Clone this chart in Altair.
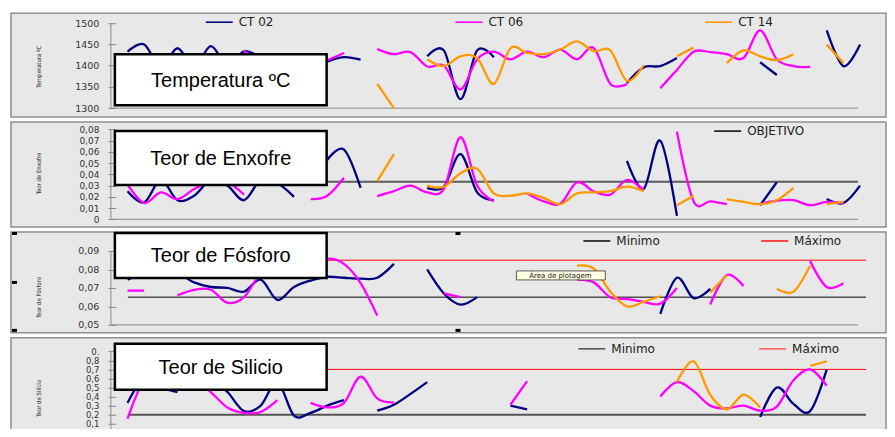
import altair as alt
import pandas as pd

samples = list(range(45))
series_names = ["CT 02", "CT 06", "CT 14"]
series_colors = ["#000080", "#ff00ff", "#ff9900"]

# ---- Temperatura ºC ----
temp_ct02 = [1433, 1450, 1395, 1441, 1395, 1446, 1400, 1434, 1420, 1405, 1400, 1398, 1410, 1420, 1414,
             None, None, None, 1422, 1436, 1321, 1436, 1420, None, None, None, None, None, None, None,
             1359, 1396, 1399, 1418, None, None, None, None, 1408, 1378, None, None, 1483, 1399, 1450]
temp_ct06 = [None, None, None, None, None, None, None, 1436, 1400, 1385, 1390, 1400, 1413, 1430, None,
             1439, 1427, 1432, 1398, 1400, 1344, 1415, 1433, 1415, 1433, 1420, 1438, 1415, 1442, 1357, 1357,
             None, 1347, 1390, 1433, 1432, 1427, 1418, 1483, 1415, 1399, 1397, None, None, None]
temp_ct14 = [None] * 15 + [1357, 1300, None, 1415, 1399, 1422, 1418, 1357, 1441, 1430, 1427, 1438, 1457,
             1434, 1436, 1364, 1401, None, 1422, 1443, None, 1406, 1436, 1422, 1413, 1427, None, 1450, 1406, None]

# ---- Teor de Enxofre ----
s_ct02 = [0.025, 0.015, 0.035, 0.017, 0.021, 0.035, 0.03, 0.017, 0.035, 0.032, 0.020, None, 0.053, 0.062, 0.028,
          None, None, None, 0.028, 0.029, 0.058, 0.024, 0.017] + [None] * 7 + \
         [0.052, 0.027, 0.070, 0.003, None, None, None, None, 0.0125, 0.033, None, None, 0.018, 0.0145, 0.030]
s_ct06 = [0.031, 0.0145, 0.024, 0.018, 0.027, 0.034, 0.033, 0.022, None, None, None, 0.018, 0.021, 0.037, None,
          0.0207, 0.025, 0.030, 0.024, 0.027, 0.073, 0.030, 0.016, None,
          0.023, 0.016, 0.014, 0.033, 0.025, 0.022, 0.035, 0.026, None,
          0.078, 0.016, 0.016, 0.0135, None, 0.0136, 0.0165, 0.017, 0.0125, 0.0155, 0.0145, None]
s_ct14 = [None] * 15 + [0.034, 0.058, None, 0.030, 0.029, 0.041, 0.045, 0.023, 0.021, 0.023, 0.019, 0.0135,
          0.023, 0.024, 0.025, 0.029, 0.025, None, 0.0125, 0.021, None, 0.018, 0.0155, 0.0135, 0.017, 0.028,
          None, 0.0135, 0.0155, None]
s_objetivo = [0.0334]

# ---- Teor de Fósforo ----
p_ct02 = [0.0745, 0.078, 0.080, 0.078, 0.073, 0.0705, 0.070, 0.068, 0.0745, 0.0635, 0.0705, 0.074, 0.076,
          0.0755, 0.075, 0.0755, 0.083, None, 0.080, 0.067, 0.061, 0.065] + [None] * 10 + \
         [0.056, 0.0755, 0.0645, 0.0695] + [None] * 9
p_ct06 = [0.0685, 0.0685, None, 0.066, 0.069, 0.069, 0.062, 0.065, 0.078, 0.082, 0.080, 0.082, 0.0858, 0.083,
          0.0726, 0.055, None, None, None, 0.067, 0.065] + [None] * 6 + \
         [0.0745, 0.073, 0.065, 0.064, 0.0625, 0.0615, 0.070, None, 0.061, 0.077, 0.071, None, None, None,
          0.0845, 0.0705, 0.0725, None]
p_ct14 = [None] * 27 + [0.082, 0.0805, 0.068, 0.060, 0.0625, 0.0655, None, None, 0.0675, 0.077, None, None,
                        0.0695, 0.068, 0.082, None, None, None]
p_minimo = [0.065]
p_maximo = [0.085]

# ---- Teor de Silicio ----
si_ct02 = [0.33, 0.6, 0.5, 0.45, None, 0.6, 0.45, 0.24, 0.30, 0.56, 0.19, 0.22, 0.30, 0.36, None,
           0.245, 0.31, 0.43, 0.56, None, None, None, None, 0.30, 0.26] + [None] * 13 + \
          [0.175, 0.50, 0.32, 0.24, 0.70, None, None]
si_ct06 = [0.155, 0.58, 0.62, 0.62, 0.60, 0.45, 0.28, 0.22, 0.23, 0.36, None, 0.33, 0.28, 0.33, 0.62, 0.38,
           0.335] + [None] * 6 + [0.31, 0.57] + [None] * 7 + \
          [0.40, 0.56, 0.46, 0.30, 0.27, 0.30, 0.245, 0.29, 0.58, 0.70, 0.52, None, None]
si_ct14 = [None] * 33 + [0.56, 0.79, 0.42, 0.26, 0.42, 0.28, None, None, 0.74, 0.79, None, None]
si_minimo = [0.2]
si_maximo = [0.7]

for arr in [temp_ct02, temp_ct06, temp_ct14, s_ct02, s_ct06, s_ct14, p_ct02, p_ct06, p_ct14,
            si_ct02, si_ct06, si_ct14]:
    assert len(arr) == len(samples), len(arr)

VIEW_W = 876
PX_PER_SAMPLE = 16.667
X_SCALE = alt.Scale(domain=[-7.0, -7.0 + VIEW_W / PX_PER_SAMPLE], nice=False, zero=False)


def segments(name, vals):
    rows, seg = [], 0
    for i, v in zip(samples, vals):
        if v is None:
            seg += 1
            continue
        rows.append({"x": i, "v": v, "series": name, "seg": f"{name}-{seg}"})
    return pd.DataFrame(rows)


def ydom(v_hi, y_hi, v_lo, y_lo, top, h):
    s = (y_lo - y_hi) / (v_hi - v_lo)
    return [v_lo - (top + h - y_lo) / s, v_hi + (y_hi - top) / s]


def one(**kw):
    return pd.DataFrame([kw])


def panel(series_vals, dom, ticks, axis_title, title_y, label_fmt, label_expr, refs, box, title_text,
          legend_items, h, base_val, extra=None, label_size=9.5):
    axis = alt.Axis(values=ticks, title=axis_title, offset=-105, tickSize=8, tickColor="#8a8a8a",
                    domain=False, grid=False, labelFont="DejaVu Sans", labelFontSize=label_size,
                    labelColor="#333333", labelPadding=9, labelOverlap=False,
                    titleFont="DejaVu Sans Condensed",
                    titleFontSize=6, titleFontWeight="normal", titleColor="#222222",
                    titleX=-77, titleY=title_y, titleAlign="center", titleBaseline="middle",
                    **({"format": label_fmt} if label_fmt else {}),
                    **({"labelExpr": label_expr} if label_expr else {}))
    scale = alt.Scale(domain=dom, nice=False, zero=False)

    def Y(f):
        return alt.Y(f, type="quantitative", scale=scale, axis=axis)

    layers = []
    for levels, color, width, x0, x1 in refs:
        layers.append(alt.Chart(pd.DataFrame({"level": levels})).mark_rule(color=color, strokeWidth=width)
                      .encode(y=Y("level"), x=alt.value(x0), x2=alt.value(x1)))
    lo, hi = base_val, ticks[-1]
    layers.append(alt.Chart(one(lo=lo, hi=hi)).mark_rule(color="#8a8a8a", strokeWidth=1, clip=True)
                  .encode(x=alt.value(100), y=Y("lo"), y2=alt.Y2("hi")))
    layers.append(alt.Chart(one(lo=lo)).mark_rule(color="#8a8a8a", strokeWidth=1, clip=True)
                  .encode(x=alt.value(100), x2=alt.value(848), y=Y("lo")))
    for name, color, vals in zip(series_names, series_colors, series_vals):
        df = segments(name, vals)
        layers.append(alt.Chart(df).mark_line(color=color, strokeWidth=2.3, interpolate="cardinal",
                                              tension=0, clip=True)
                      .encode(x=alt.X("x:Q", scale=X_SCALE, axis=None), y=Y("v"), detail="seg:N",
                              order="x:Q"))
    b0, b1 = box
    layers.append(alt.Chart(one(t=title_text)).mark_rect(fill="white", stroke="black", strokeWidth=2.5)
                  .encode(x=alt.value(104), x2=alt.value(316), y=alt.value(b0), y2=alt.value(b1)))
    layers.append(alt.Chart(one(t=title_text)).mark_text(font="Liberation Sans", fontSize=20, align="center",
                                                         baseline="middle", color="black")
                  .encode(x=alt.value(210), y=alt.value((b0 + b1) / 2 + 1), text="t:N"))
    for label, color, lx, ly in legend_items:
        layers.append(alt.Chart(one(t=label)).mark_rule(color=color, strokeWidth=1.6)
                      .encode(x=alt.value(lx), x2=alt.value(lx + 27), y=alt.value(ly)))
        layers.append(alt.Chart(one(t=label)).mark_text(font="DejaVu Sans", fontSize=12, align="left",
                                                        baseline="middle", color="#222222")
                      .encode(x=alt.value(lx + 33), y=alt.value(ly), text="t:N"))
    if extra:
        layers += extra
    return alt.layer(*layers).properties(width=VIEW_W, height=h)


H = [104, 105, 101, 92]
TOPS = [12, 121, 231, 337]

p1 = panel([temp_ct02, temp_ct06, temp_ct14],
           ydom(1500, 22, 1300, 107, TOPS[0], H[0]), [1300, 1350, 1400, 1450, 1500],
           "Temperatura ºC", 53, "d", None, [], (41, 92), "Temperatura ºC",
           [("CT 02", "#000080", 195, 9), ("CT 06", "#ff00ff", 445, 9), ("CT 14", "#ff9900", 695, 9)],
           H[0], 1300)

p2 = panel([s_ct02, s_ct06, s_ct14],
           ydom(0.08, 128.3, 0.0, 218.3, TOPS[1], H[1]), [0, 0.01, 0.02, 0.03, 0.04, 0.05, 0.06, 0.07, 0.08],
           "Teor de Enxofre", 51, None,
           "datum.value == 0 ? '0' : replace(format(datum.value, '.2f'), '.', ',')",
           [(s_objetivo, "#5a5a5a", 2, 117, 848)], (9, 63), "Teor de Enxofre",
           [("OBJETIVO", "#111111", 704, 9)], H[1], 0, label_size=9)

# Excel "selected chart" handles and the hover tooltip seen in the phosphorus panel
handle_df = one(t="handle")
p3_extra = [
    alt.Chart(one(t="Área de plotagem")).mark_rect(fill="#ffffe1", stroke="#333333", strokeWidth=0.8)
    .encode(x=alt.value(506), x2=alt.value(595), y=alt.value(39), y2=alt.value(48)),
    alt.Chart(one(t="Área de plotagem")).mark_text(font="DejaVu Sans", fontSize=7, align="center",
                                                   baseline="middle", color="#222222")
    .encode(x=alt.value(550), y=alt.value(44), text="t:N"),
]
for hx, hy in [(1, 0), (1, 49), (1, 97), (445, 0), (445, 97)]:
    p3_extra.append(alt.Chart(handle_df).mark_rect(color="black")
                    .encode(x=alt.value(hx), x2=alt.value(hx + 5), y=alt.value(hy), y2=alt.value(hy + 3)))

p3 = panel([p_ct02, p_ct06, p_ct14],
           ydom(0.09, 250, 0.05, 324, TOPS[2], H[2]), [0.05, 0.06, 0.07, 0.08, 0.09],
           "Teor de Fósforo", 65, None,
           "replace(format(datum.value, '.2f'), '.', ',')",
           [(p_minimo, "#000000", 1, 117, 856), (p_maximo, "#ff0000", 1, 117, 856)], (1, 46),
           "Teor de Fósforo",
           [("Minimo", "#111111", 573, 9), ("Máximo", "#ff2020", 751, 9)], H[2], 0.05, extra=p3_extra)

# silicon panel: 0.8 at page y 359.5, 0.1 at page y 423 (view top 337)
si_dom = ydom(0.8, 359.5, 0.1, 423, TOPS[3], H[3])
p4 = panel([si_ct02, si_ct06, si_ct14],
           si_dom, [0.1, 0.2, 0.3, 0.4, 0.5, 0.6, 0.7, 0.8, 0.9],
           "Teor de Silício", 60, None,
           "datum.value > 0.85 ? '0.' : replace(format(datum.value, '.1f'), '.', ',')",
           [(si_minimo, "#555555", 2, 117, 856), (si_maximo, "#ff0000", 1, 117, 856)], (6, 52),
           "Teor de Silicio",
           [("Minimo", "#555555", 568, 11), ("Máximo", "#ff6060", 749, 11)], H[3], 0.0, label_size=8.5)

chart = alt.vconcat(p1, p2, p3, p4, spacing=5, bounds="flush").resolve_scale(
    x="independent", y="independent").properties(
    padding={"left": 2, "top": 4, "right": 0, "bottom": -2}
).configure(background="white").configure_view(fill="#e8e8e8", stroke="#8f8f8f", strokeWidth=1.5)

chart.save("out.html", embed_options={"renderer": "svg", "actions": False})
